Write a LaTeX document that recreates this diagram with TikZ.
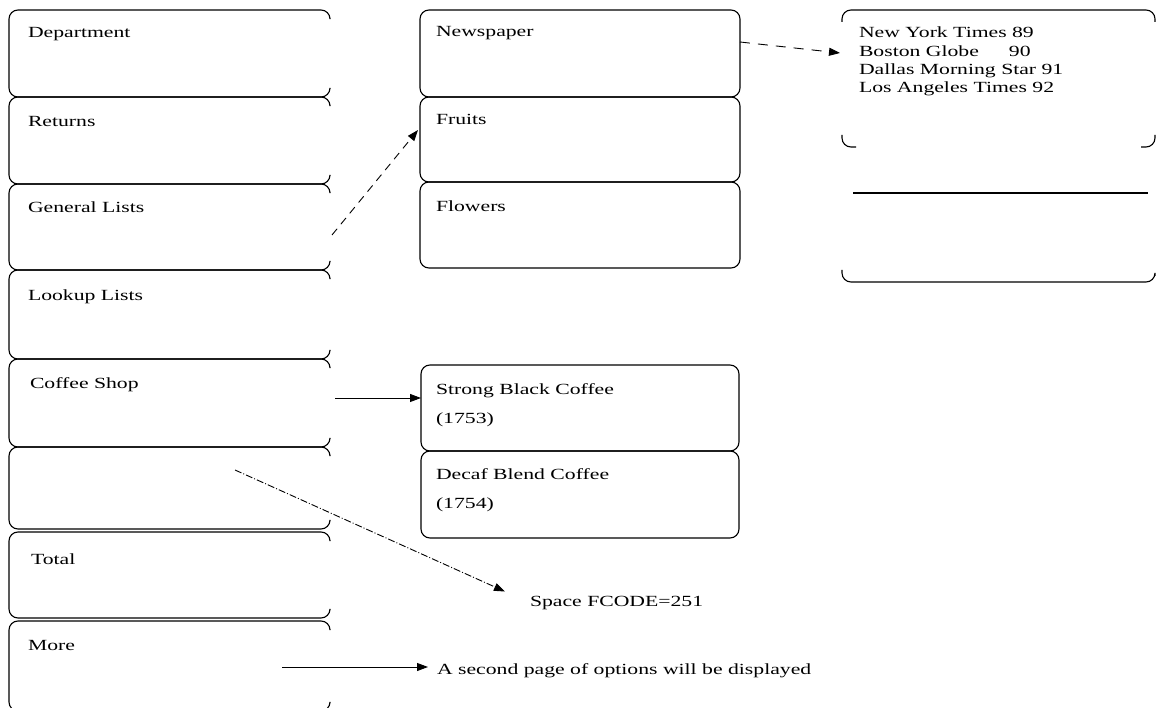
\documentclass[tikz,border=0pt]{standalone}
\usepackage{fontspec}
\setmainfont{Liberation Serif}[FakeStretch=1.4]
\usetikzlibrary{arrows.meta,calc}
\tikzset{
  area/.style={rectangle,inner sep=0pt,outer sep=0pt},
  lbl/.style={inner sep=0pt,outer sep=0pt,anchor=base west,font=\fontsize{15.5}{18}\selectfont},
  boxline/.style={line width=1.1pt,rounded corners=9pt},
  arr/.style={line width=0.9pt,-{Triangle[length=11pt,width=8pt]}},
}
\newcommand\openbox[1]{%
  \draw[boxline] ($(#1.north east)+(0,8)$) |- (#1.north west) |- (#1.south east) -- ++(0,-8);}
\newcommand\fullbox[1]{%
  \draw[boxline] (#1.north west) rectangle (#1.south east);}
\begin{document}
\begin{tikzpicture}[x=1pt,y=-1pt]
\useasboundingbox (0,0) rectangle (1157,708);
% left column boxes
\node[area,minimum width=321pt,minimum height=87pt,anchor=north west] (dep)  at (9,10)  {};
\node[area,minimum width=321pt,minimum height=87pt,anchor=north west] (ret)  at (9,97)  {};
\node[area,minimum width=321pt,minimum height=86pt,anchor=north west] (gen)  at (9,184) {};
\node[area,minimum width=321pt,minimum height=89pt,anchor=north west] (look) at (9,270) {};
\node[area,minimum width=321pt,minimum height=88pt,anchor=north west] (cof)  at (9,359) {};
\node[area,minimum width=321pt,minimum height=82pt,anchor=north west] (emp)  at (9,447) {};
\node[area,minimum width=321pt,minimum height=86pt,anchor=north west] (tot)  at (9,532) {};
\node[area,minimum width=321pt,minimum height=90pt,anchor=north west] (more) at (9,621) {};
\foreach \n in {dep,ret,gen,look,cof,emp,tot,more} {\openbox{\n}}
% middle column boxes
\node[area,minimum width=320pt,minimum height=87pt,anchor=north west] (news)   at (420,10)  {};
\node[area,minimum width=320pt,minimum height=85pt,anchor=north west] (fruit)  at (420,97)  {};
\node[area,minimum width=320pt,minimum height=86pt,anchor=north west] (flow)   at (420,182) {};
\node[area,minimum width=318pt,minimum height=86pt,anchor=north west] (strong) at (421,365) {};
\node[area,minimum width=318pt,minimum height=87pt,anchor=north west] (decaf)  at (421,451) {};
\foreach \n in {news,fruit,flow,strong,decaf} {\fullbox{\n}}
% right column boxes
\node[area,minimum width=313pt,minimum height=137pt,anchor=north west] (nyt)  at (842,10)  {};
\node[area,minimum width=313pt,minimum height=89pt,anchor=north west]  (rbox) at (842,193) {};
\draw[boxline] ($(nyt.north west)+(0,12)$) |- ($(nyt.north east)$) -- ++(0,12);
\draw[boxline] ($(nyt.south west)+(0,-12)$) |- ($(nyt.south west)+(14,0)$);
\draw[boxline] ($(nyt.south east)+(0,-12)$) |- ($(nyt.south east)+(-14,0)$);
\draw[line width=1.1pt] ($(rbox.north west)+(11,0)$) -- ($(rbox.north east)+(-7,0)$);
\draw[boxline] ($(rbox.south west)+(0,-12)$) |- ($(rbox.south east)$) -- ++(0,-6);
% labels
\node[lbl] (depL)  at (28,38)  {Department};
\node[lbl] (retL)  at (28,127) {Returns};
\node[lbl] (genL)  at (28,213) {General Lists};
\node[lbl] (lookL) at (28,301) {Lookup Lists};
\node[lbl] (cofL)  at (30,389) {Coffee Shop};
\node[lbl] (totL)  at (31,564) {Total};
\node[lbl] (moreL) at (28,650) {More};
\node[lbl] (newsL) at (436,37)  {Newspaper};
\node[lbl] (fruitL) at (436,125) {Fruits};
\node[lbl] (flowL) at (436,212) {Flowers};
\node[lbl] (strongL1) at (436,395) {Strong Black Coffee};
\node[lbl] (strongL2) at (436,424) {(1753)};
\node[lbl] (decafL1) at (436,479) {Decaf Blend Coffee};
\node[lbl] (decafL2) at (436,508) {(1754)};
\node[lbl] (nyt1) at (859,38) {New York Times 89};
\node[lbl] (nyt2) at (859,57) {Boston Globe\hspace{30pt}90};
\node[lbl] (nyt3) at (859,75) {Dallas Morning Star 91};
\node[lbl] (nyt4) at (859,93) {Los Angeles Times 92};
\node[lbl] (spc) at (530,606) {Space FCODE=251};
\node[lbl] (sec) at (437,674) {A second page of options will be displayed};
% connectors
\draw[arr,dash pattern=on 10pt off 8pt] ($(news.east)+(0,-11.5)$) -- ($(nyt.west)+(-2,-25.5)$);
\draw[arr,dash pattern=on 8pt off 6pt] ($(gen.east)+(2,8)$) -- ($(fruit.west)+(-2,-9.5)$);
\draw[arr] ($(cof.east)+(5,-5)$) coordinate (c1) -- (c1 -| strong.west);
\draw[arr,dash pattern=on 7pt off 2pt on 1pt off 2pt] ($(emp.north west)+(226,23)$) -- ($(spc.west)+(-25,-11)$);
\draw[arr] ($(more.north west)+(273,46)$) coordinate (c2) -- ($(c2 -| sec.west)+(-9,0)$);
\end{tikzpicture}
\end{document}
